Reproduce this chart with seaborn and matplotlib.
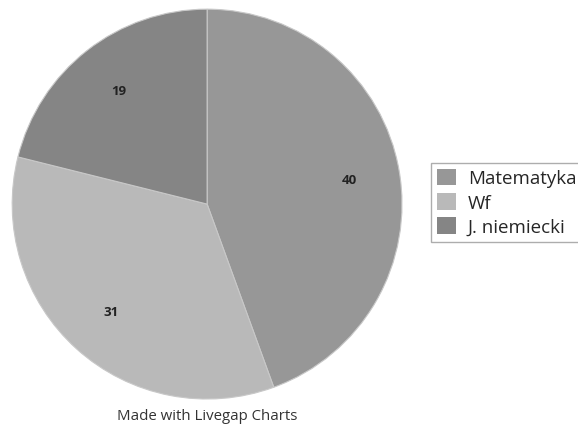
import matplotlib
matplotlib.use("Agg")
import matplotlib.pyplot as plt
import seaborn as sns

sns.set_style("white")
plt.rcParams['font.family'] = ['Open Sans', 'DejaVu Sans']

labels = ["Matematyka", "Wf", "J. niemiecki"]
values = [40, 31, 19]
colors = ["#979797", "#b9b9b9", "#858585"]

fig = plt.figure(figsize=(5.78, 4.27), dpi=100)
ax = fig.add_axes([0.0208, 0.0632, 0.675, 0.913])

wedges, texts = ax.pie(values, colors=colors, startangle=90, counterclock=False,
                       labels=[str(v) for v in values], labeldistance=0.74,
                       wedgeprops=dict(edgecolor="#c8c8c8", linewidth=0.8),
                       textprops=dict(fontsize=9.5, fontweight="bold", color="#222222"))
for t in texts:
    t.set_ha("center")
    t.set_va("center")
ax.set_xlim(-1, 1)
ax.set_ylim(-1, 1)
ax.set_aspect("equal")

leg = fig.legend(wedges, labels, loc="upper left", bbox_to_anchor=(0.746, 0.616),
                 fontsize=13.5, frameon=True, fancybox=False, edgecolor="#999999",
                 handlelength=1.0, handleheight=1.0, handletextpad=0.65,
                 labelspacing=0.3, borderpad=0.3, borderaxespad=0)
for h in leg.legend_handles:
    h.set_edgecolor("none")

fig.text(0.358, 0.024, "Made with Livegap Charts", ha="center", va="center",
         fontsize=10.8, color="#333333")

fig.savefig("out.png", dpi=100)
